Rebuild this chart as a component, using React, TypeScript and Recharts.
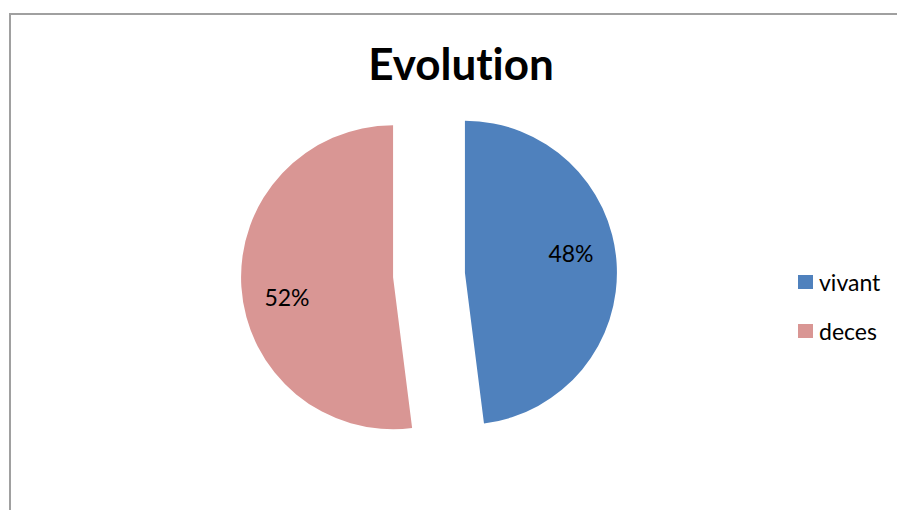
import React from "react";
import { PieChart, Pie, Cell, Sector, Legend } from "recharts";

// Outcome split
const categories = ["vivant", "deces"];
const values = [48, 52];
const colors = ["#4F81BD", "#D99694"];

const data = categories.map((name, i) => ({ name, value: values[i] }));

const RADIAN = Math.PI / 180;
const EXPLODE = 36; // distance each slice is pulled out from the centre
const FONT = "Lato, 'Open Sans', 'Noto Sans', sans-serif";

const offsetFor = (midAngle: number) => ({
  dx: EXPLODE * Math.cos(-midAngle * RADIAN),
  dy: EXPLODE * Math.sin(-midAngle * RADIAN),
});

const ExplodedSector = (props: any) => {
  const { cx, cy, innerRadius, outerRadius, startAngle, endAngle, midAngle, fill } = props;
  const { dx, dy } = offsetFor(midAngle);
  return (
    <Sector
      cx={cx + dx}
      cy={cy + dy}
      innerRadius={innerRadius}
      outerRadius={outerRadius}
      startAngle={startAngle}
      endAngle={endAngle}
      fill={fill}
      stroke="none"
    />
  );
};

const renderLabel = (props: any) => {
  const { cx, cy, midAngle, outerRadius, percent } = props;
  const { dx, dy } = offsetFor(midAngle);
  const a = (midAngle + 7) * RADIAN;
  const r = outerRadius * 0.71;
  const x = cx + dx + r * Math.cos(-a);
  const y = cy + dy + r * Math.sin(-a);
  return (
    <text
      x={x}
      y={y}
      fill="#000"
      textAnchor="middle"
      dominantBaseline="central"
      fontFamily={FONT}
      fontSize={23}
    >
      {`${Math.round(percent * 100)}%`}
    </text>
  );
};

const LegendContent = () => (
  <div style={{ fontFamily: FONT, fontSize: 23, color: "#000" }}>
    {categories.map((name, i) => (
      <div
        key={name}
        style={{ display: "flex", alignItems: "center", height: 30, marginBottom: i === 0 ? 19 : 0 }}
      >
        <span
          style={{
            display: "inline-block",
            width: 15,
            height: 14,
            background: colors[i],
            marginRight: 6,
          }}
        />
        <span>{name}</span>
      </div>
    ))}
  </div>
);

export default function App() {
  return (
    <div
      style={{
        position: "fixed",
        left: 0,
        top: 0,
        width: 897,
        height: 510,
        overflow: "hidden",
        background: "#fff",
      }}
    >
      <div
        style={{
          position: "absolute",
          left: 9,
          top: 13,
          width: 1000,
          height: 1000,
          borderLeft: "2px solid #a0a0a0",
          borderTop: "2px solid #a0a0a0",
        }}
      />
      <svg
        width={897}
        height={510}
        style={{ position: "absolute", left: 0, top: 0 }}
      >
        <text
          x={461}
          y={80}
          textAnchor="middle"
          fontFamily={FONT}
          fontWeight="bold"
          fontSize={44}
          fill="#000"
          style={{ fontVariantLigatures: "none" }}
        >
          Evolution
        </text>
      </svg>
      <div style={{ position: "absolute", left: 0, top: 0 }}>
        <PieChart width={897} height={510} margin={{ top: 0, right: 0, bottom: 0, left: 0 }}>
          <Pie
            data={data}
            dataKey="value"
            nameKey="name"
            cx={429}
            cy={275}
            outerRadius={152}
            startAngle={90}
            endAngle={-270}
            shape={ExplodedSector}
            label={renderLabel}
            labelLine={false}
            isAnimationActive={false}
          >
            {data.map((d, i) => (
              <Cell key={d.name} fill={colors[i]} />
            ))}
          </Pie>
          <Legend
            content={<LegendContent />}
            layout="vertical"
            wrapperStyle={{ left: 798, top: 267, width: 99 }}
          />
        </PieChart>
      </div>
    </div>
  );
}
